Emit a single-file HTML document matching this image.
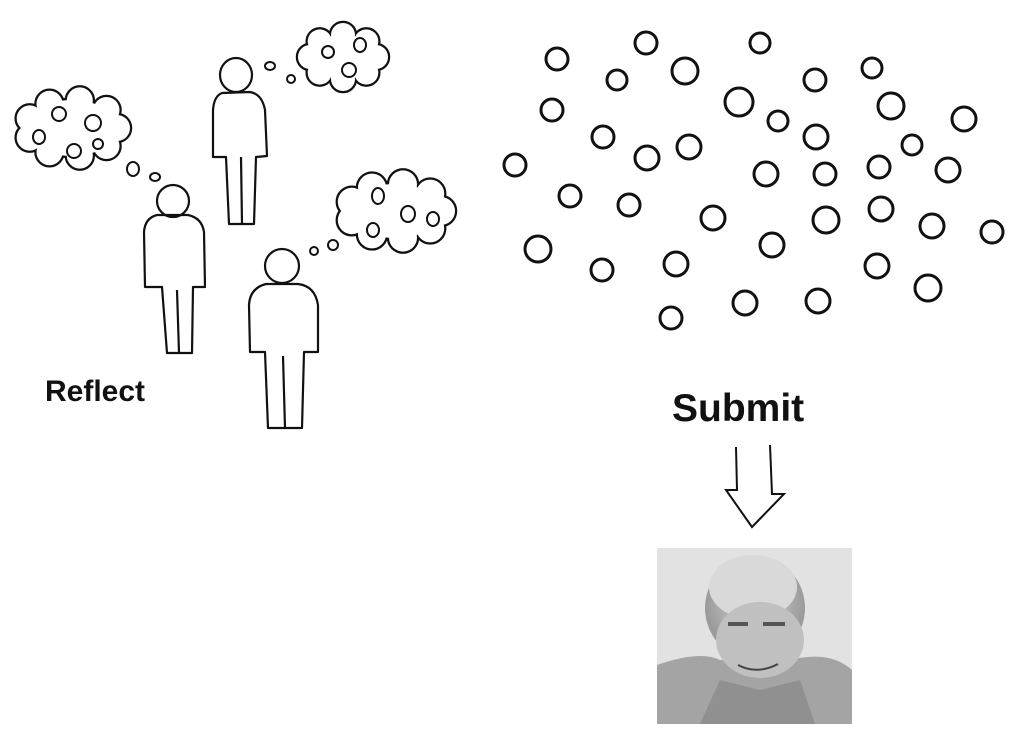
<!DOCTYPE html>
<html><head><style>
html,body{margin:0;padding:0;background:#fff;}
body{width:1024px;height:735px;position:relative;overflow:hidden;font-family:"Liberation Sans",sans-serif;}
.t{position:absolute;font-weight:bold;color:#111;line-height:1;}
</style></head><body>
<svg width="1024" height="735" style="position:absolute;left:0;top:0" fill="none" stroke="#111" stroke-width="2.5">
<defs>
<radialGradient id="face" cx="50%" cy="45%" r="50%"><stop offset="0" stop-color="#d8d8d8"/><stop offset="1" stop-color="#9a9a9a"/></radialGradient>
<g id="clouds">
<ellipse cx="72" cy="128" rx="45" ry="28"/>
<circle cx="117" cy="128" r="13"/><circle cx="106.5" cy="146" r="13"/><circle cx="79.8" cy="155.6" r="13"/><circle cx="49.5" cy="152.2" r="13"/><circle cx="29.7" cy="137.6" r="13"/><circle cx="29.7" cy="118.4" r="13"/><circle cx="49.5" cy="103.8" r="13"/><circle cx="79.8" cy="100.4" r="13"/><circle cx="106.5" cy="110" r="13"/>
<ellipse cx="343" cy="57" rx="33" ry="22"/>
<circle cx="376" cy="57" r="12"/><circle cx="366.3" cy="72.6" r="12"/><circle cx="343" cy="79" r="12"/><circle cx="319.7" cy="72.6" r="12"/><circle cx="310" cy="57" r="12"/><circle cx="319.7" cy="41.4" r="12"/><circle cx="343" cy="35" r="12"/><circle cx="366.3" cy="41.4" r="12"/>
<ellipse cx="395" cy="211" rx="46" ry="27"/>
<circle cx="441" cy="211" r="14"/><circle cx="430.2" cy="228.4" r="14"/><circle cx="403" cy="237.6" r="14"/><circle cx="372" cy="234.4" r="14"/><circle cx="351.8" cy="220.2" r="14"/><circle cx="351.8" cy="201.8" r="14"/><circle cx="372" cy="187.6" r="14"/><circle cx="403" cy="184.4" r="14"/><circle cx="430.2" cy="193.6" r="14"/>
</g>
</defs>
<use href="#clouds" fill="#111" stroke="#111" stroke-width="4.5"/>
<use href="#clouds" fill="#fff" stroke="none"/>
<g stroke-width="2">
<ellipse cx="39" cy="137" rx="6" ry="7"/><ellipse cx="59" cy="114" rx="7" ry="7"/><ellipse cx="93" cy="123" rx="8" ry="8"/><ellipse cx="74" cy="151" rx="7" ry="7"/><ellipse cx="98" cy="144" rx="5" ry="5"/>
<ellipse cx="133" cy="169" rx="6" ry="7"/><ellipse cx="155" cy="177" rx="5" ry="4"/>
<ellipse cx="328" cy="52" rx="6" ry="6"/><ellipse cx="360" cy="45" rx="6" ry="7"/><ellipse cx="349" cy="70" rx="7" ry="7"/>
<ellipse cx="270" cy="66" rx="5" ry="4"/><ellipse cx="291" cy="79" rx="4" ry="4"/>
<ellipse cx="378" cy="196" rx="6" ry="8"/><ellipse cx="408" cy="214" rx="7" ry="8"/><ellipse cx="433" cy="219" rx="6" ry="7"/><ellipse cx="373" cy="230" rx="6" ry="7"/>
<ellipse cx="314" cy="251" rx="4" ry="4"/><ellipse cx="333" cy="245" rx="5" ry="5"/>
</g>
<g stroke-width="2.2" stroke-linejoin="round">
<ellipse cx="236" cy="75" rx="16" ry="17"/>
<path d="M222 93 Q214 96 213 110 L213 157 L226 157 L229 224 L254 224 L256 157 L267 156 L265 110 Q262 94 250 92 Z"/><path d="M241 157 L242 224"/>
<ellipse cx="173" cy="201" rx="16" ry="16"/>
<path d="M157 215 Q145 218 144 232 L145 287 L162 287 L167 353 L192 353 L193 287 L205 287 L204 232 Q202 218 188 215 Z"/><path d="M177 290 L179 353"/>
<ellipse cx="282" cy="266" rx="17" ry="17"/>
<path d="M266 284 Q250 288 249 305 L250 352 L265 352 L268 428 L302 428 L304 352 L318 352 L318 305 Q315 286 298 284 Z"/><path d="M283 356 L285 428"/>
</g>
<g stroke-width="3">
<circle cx="557" cy="59" r="11"/><circle cx="646" cy="43" r="11"/><circle cx="760" cy="43" r="10"/><circle cx="617" cy="80" r="10"/><circle cx="685" cy="71" r="13"/><circle cx="815" cy="80" r="11"/><circle cx="872" cy="68" r="10"/>
<circle cx="552" cy="110" r="11"/><circle cx="739" cy="102" r="14"/><circle cx="778" cy="121" r="10"/><circle cx="891" cy="106" r="13"/><circle cx="964" cy="119" r="12"/>
<circle cx="603" cy="137" r="11"/><circle cx="647" cy="158" r="12"/><circle cx="689" cy="147" r="12"/><circle cx="816" cy="137" r="12"/><circle cx="912" cy="145" r="10"/>
<circle cx="515" cy="165" r="11"/><circle cx="766" cy="174" r="12"/><circle cx="825" cy="174" r="11"/><circle cx="879" cy="167" r="11"/><circle cx="948" cy="170" r="12"/>
<circle cx="570" cy="196" r="11"/><circle cx="629" cy="205" r="11"/><circle cx="713" cy="218" r="12"/><circle cx="826" cy="220" r="13"/><circle cx="881" cy="209" r="12"/><circle cx="932" cy="226" r="12"/><circle cx="992" cy="232" r="11"/>
<circle cx="538" cy="249" r="13"/><circle cx="772" cy="245" r="12"/><circle cx="602" cy="270" r="11"/><circle cx="676" cy="264" r="12"/><circle cx="877" cy="266" r="12"/><circle cx="928" cy="288" r="13"/>
<circle cx="745" cy="303" r="12"/><circle cx="818" cy="301" r="12"/><circle cx="671" cy="318" r="11"/>
</g>
<path stroke-width="2" stroke-linejoin="miter" d="M736 447 L737 490 L726 490 L752 527 L784 494 L772 494 L770 445"/>
<g stroke="none">
<rect x="657" y="548" width="195" height="176" fill="#e2e2e2"/>
<path d="M657 665 Q700 650 720 660 L790 660 Q830 650 852 670 L852 724 L657 724 Z" fill="#a4a4a4"/>
<ellipse cx="755" cy="608" rx="50" ry="52" fill="url(#face)"/>
<ellipse cx="753" cy="587" rx="44" ry="32" fill="#d9d9d9"/>
<ellipse cx="760" cy="640" rx="44" ry="38" fill="#c0c0c0"/>
<rect x="728" y="622" width="20" height="4" fill="#555"/><rect x="763" y="622" width="22" height="4" fill="#555"/>
<path d="M738 665 Q757 675 778 664" stroke="#444" stroke-width="2" fill="none"/>
<path d="M700 724 L720 680 L760 690 L800 680 L815 724 Z" fill="#909090"/>
</g>
</svg>
<div class="t" style="left:45px;top:377px;font-size:30px;">Reflect</div>
<div class="t" style="left:672px;top:389px;font-size:39px;">Submit</div>
</body></html>
